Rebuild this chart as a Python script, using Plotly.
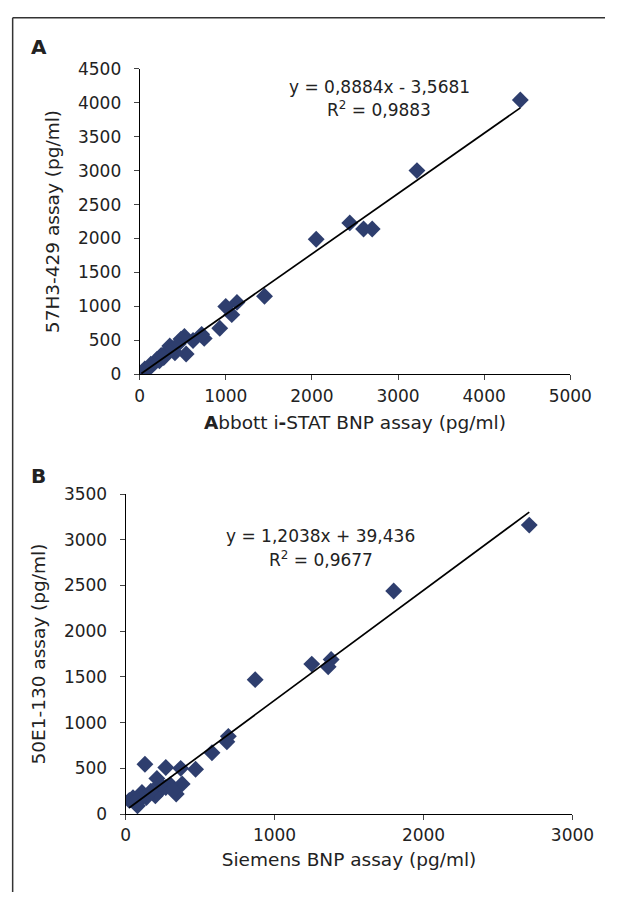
import numpy as np
import plotly.graph_objects as go

# Panel A: Abbott i-STAT BNP vs 57H3-429 assay (pg/ml)
abbott_x = [4420, 3220, 2440, 2600, 2700, 2050, 1450, 1130, 1000, 1070, 930, 750, 720, 620,
            520, 480, 540, 410, 350, 250, 300, 200, 170, 140, 110, 80, 50, 20, 230, 380, 450,
            130, 60, 280]
h3_y = [4040, 3000, 2230, 2140, 2140, 1990, 1150, 1060, 1000, 880, 680, 530, 590, 500,
        560, 520, 300, 320, 420, 280, 320, 220, 170, 130, 100, 70, 40, 20, 200, 380, 450,
        150, 80, 250]
fit_a = (0.8884, -3.5681)
eq_a = "y = 0,8884x - 3,5681"
r2_a = "R<sup>2</sup> = 0,9883"

# Panel B: Siemens BNP vs 50E1-130 assay (pg/ml)
siemens_x = [2710, 1800, 1380, 1360, 1250, 870, 690, 680, 580, 470, 370, 270, 130, 210,
             380, 340, 300, 270, 240, 200, 140, 110, 90, 80, 50, 25, 170, 320, 230, 60]
e1_y = [3160, 2440, 1690, 1610, 1640, 1470, 850, 790, 670, 490, 500, 510, 545, 390,
        330, 220, 320, 290, 270, 200, 180, 235, 145, 90, 180, 150, 250, 260, 330, 130]
fit_b = (1.2038, 39.436)
eq_b = "y = 1,2038x + 39,436"
r2_b = "R<sup>2</sup> = 0,9677"

FONT = "DejaVu Sans"
TICK_FS = 17
TITLE_FS = 18.5
NOTE_FS = 17
TXT = "#222222"
MARK = "#2E3E6E"
W, H = 627, 902

fig = go.Figure()

def add_panel(xs, ys, fit, xa, ya):
    fig.add_trace(go.Scatter(x=xs, y=ys, mode="markers", xaxis=xa, yaxis=ya,
                             marker=dict(symbol="diamond", size=13, color=MARK),
                             showlegend=False))
    lx = np.array([min(xs), max(xs)])
    fig.add_trace(go.Scatter(x=lx, y=fit[0] * lx + fit[1], mode="lines", xaxis=xa, yaxis=ya,
                             line=dict(color="black", width=1.7), showlegend=False))

add_panel(abbott_x, h3_y, fit_a, "x", "y")
add_panel(siemens_x, e1_y, fit_b, "x2", "y2")

axis_common = dict(showgrid=False, zeroline=False, showline=True, linecolor="black",
                   linewidth=1, ticks="outside", ticklen=5, tickcolor="#444",
                   tickfont=dict(family=FONT, size=TICK_FS, color=TXT))
x_common = dict(ticklabelstandoff=1, **axis_common)
y_common = dict(ticklabelstandoff=9, **axis_common)

def title(text, standoff):
    return dict(text=text, font=dict(family=FONT, size=TITLE_FS, color=TXT), standoff=standoff)

fig.update_layout(
    width=W, height=H,
    margin=dict(l=0, r=0, t=0, b=0),
    paper_bgcolor="white", plot_bgcolor="white",
    font=dict(family=FONT, color=TXT),
    xaxis=dict(domain=[140.7 / W, 590.7 / W], range=[0, 5000], dtick=1000, anchor="y",
               title=title("<b>A</b>bbott i<b>-</b>STAT BNP assay (pg/ml)", 11), **x_common),
    yaxis=dict(domain=[1 - 372.7 / H, 1 - 60 / H], range=[0, 4500], dtick=500, anchor="x",
               title=title("57H3-429 assay (pg/ml)", 13), **y_common),
    xaxis2=dict(domain=[126 / W, 593 / W], range=[0, 3000], dtick=1000, anchor="y2",
                title=title("Siemens BNP assay (pg/ml)", 8), **x_common),
    yaxis2=dict(domain=[1 - 822.3 / H, 1 - 495 / H], range=[0, 3500], dtick=500, anchor="x2",
                title=title("50E1-130 assay (pg/ml)", 13), **y_common),
)

annots = [
    dict(text=eq_a, x=391, y=79), dict(text=r2_a, x=391, y=101),
    dict(text=eq_b, x=330, y=538), dict(text=r2_b, x=330, y=561),
]
for a in annots:
    fig.add_annotation(text=a["text"], x=a["x"] / W, y=1 - a["y"] / H,
                       xref="paper", yref="paper", showarrow=False,
                       xanchor="center", yanchor="middle",
                       font=dict(family=FONT, size=NOTE_FS, color=TXT))

for letter, ypx in (("A", 38), ("B", 477)):
    fig.add_annotation(text=f"<b>{letter}</b>", x=25 / W, y=1 - ypx / H,
                       xref="paper", yref="paper", showarrow=False,
                       xanchor="left", yanchor="middle",
                       font=dict(family=FONT, size=20, color=TXT))

# frame lines along the top and left edge
fig.add_shape(type="line", xref="paper", yref="paper", x0=8 / W, x1=1, y0=1 - 8 / H,
              y1=1 - 8 / H, line=dict(color="#333", width=1.5))
fig.add_shape(type="line", xref="paper", yref="paper", x0=8 / W, x1=8 / W, y0=0,
              y1=1 - 8 / H, line=dict(color="#333", width=1.5))

fig.write_html("out.html")
